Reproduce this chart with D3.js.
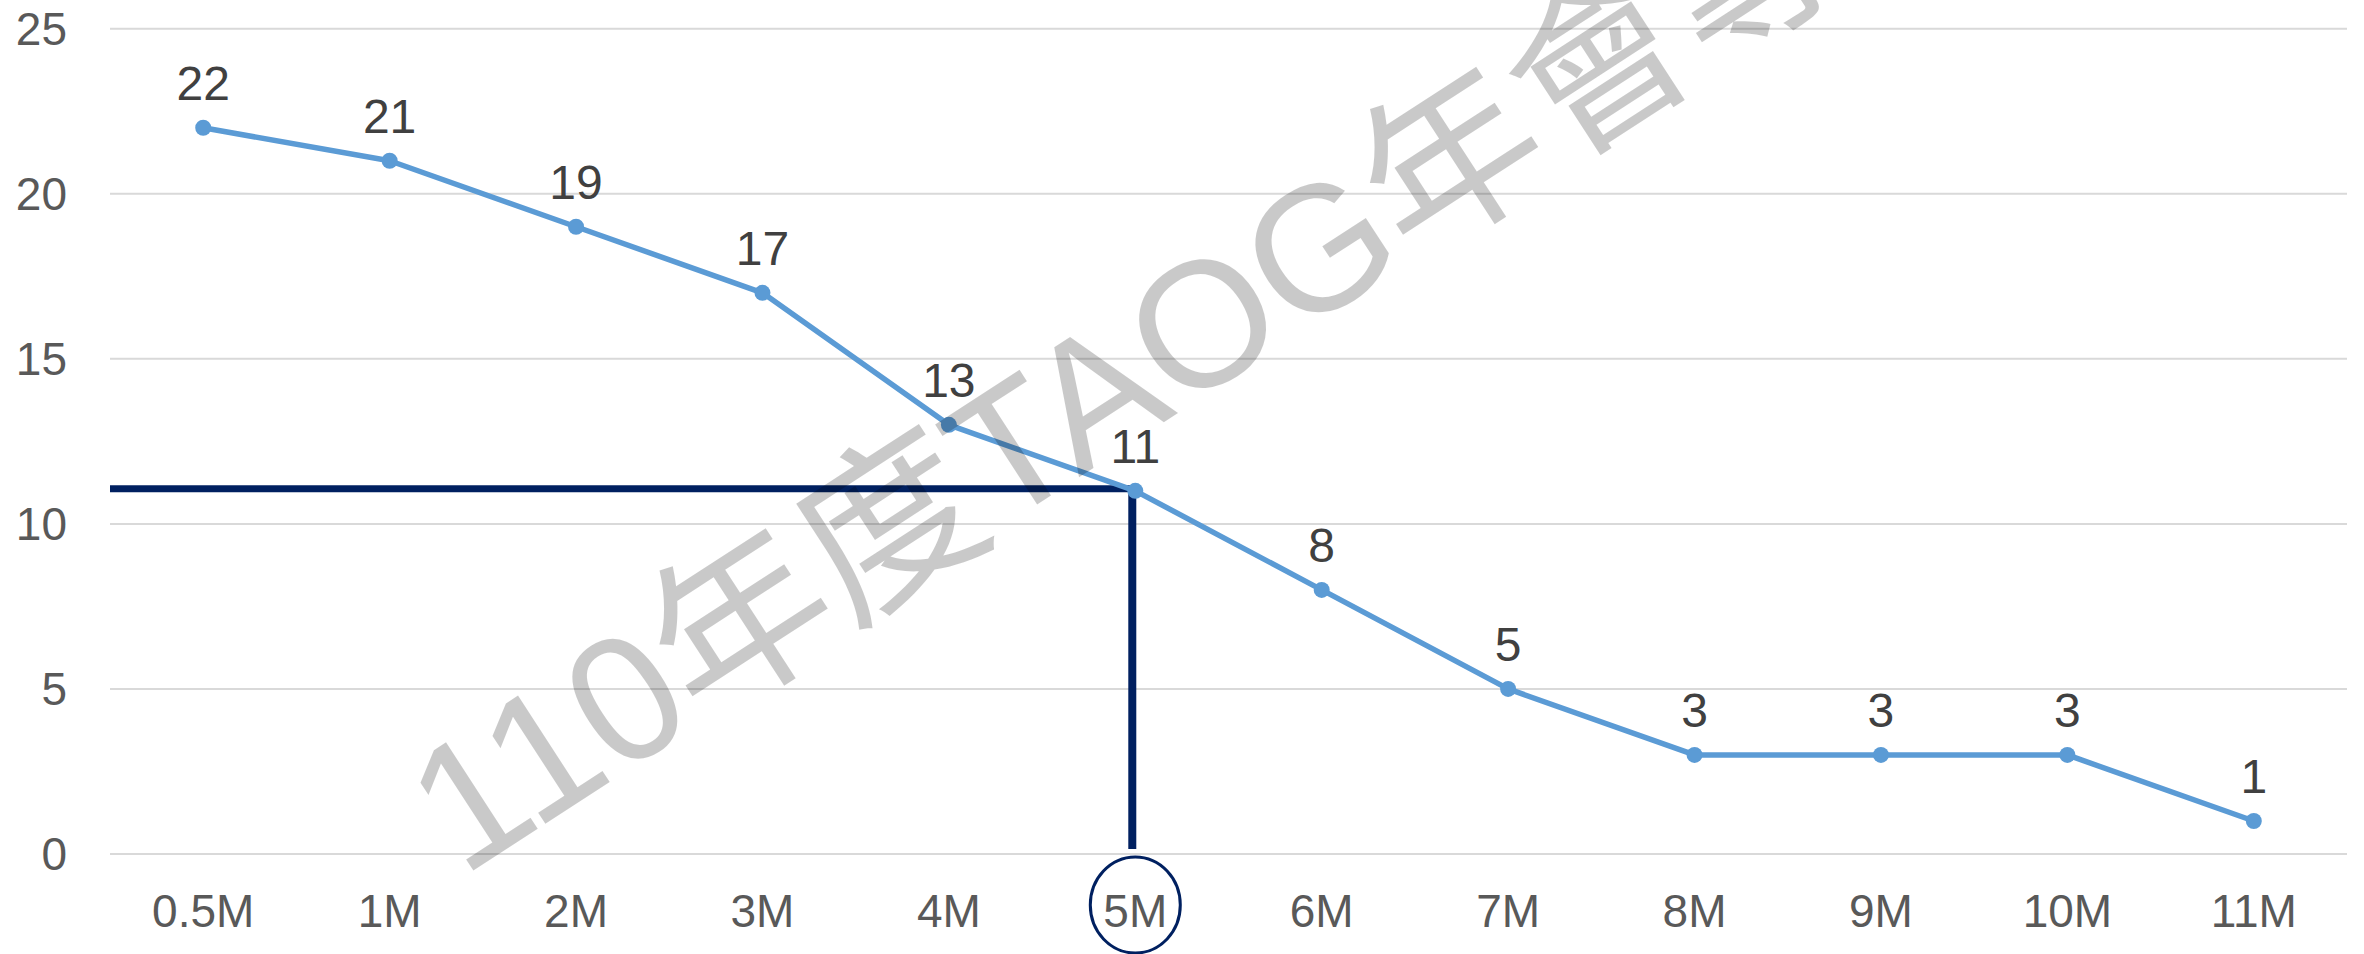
<!DOCTYPE html>
<html>
<head>
<meta charset="utf-8">
<script src="https://cdn.jsdelivr.net/npm/d3@7"></script>
<style>
  body { margin: 0; background: #fff; }
  svg { display: block; }
</style>
</head>
<body>
<script>
// ----- Data -----
const categories = ["0.5M", "1M", "2M", "3M", "4M", "5M", "6M", "7M", "8M", "9M", "10M", "11M"];
const values = [22, 21, 19, 17, 13, 11, 8, 5, 3, 3, 3, 1];
const yTicks = [0, 5, 10, 15, 20, 25];
const highlight = "5M";
const watermark = "110年度TAOG年會專用";

// ----- Layout -----
const W = 2364, H = 954;
const PLOT_LEFT = 110, PLOT_RIGHT = 2347;
const PLOT_TOP = 28.7, PLOT_BOTTOM = 854;

const LINE_COLOR = "#5B9BD5";
const NAVY = "#002060";

const svg = d3.select("body").append("svg")
    .attr("width", W)
    .attr("height", H);

const x = d3.scaleBand()
    .domain(categories)
    .range([PLOT_LEFT, PLOT_RIGHT]);

const y = d3.scaleLinear()
    .domain([0, 25])
    .range([PLOT_BOTTOM, PLOT_TOP]);

const cx = d => x(d) + x.bandwidth() / 2;

// ----- Gridlines -----
svg.append("g").selectAll("line")
    .data(yTicks)
    .enter()
    .append("line")
        .attr("x1", PLOT_LEFT)
        .attr("x2", PLOT_RIGHT)
        .attr("y1", d => y(d))
        .attr("y2", d => y(d))
        .attr("stroke", "#D9D9D9")
        .attr("stroke-width", 2);

// ----- Y axis labels -----
svg.append("g").selectAll("text")
    .data(yTicks)
    .enter()
    .append("text")
        .attr("x", 67)
        .attr("y", d => y(d))
        .attr("dy", "0.35em")
        .attr("text-anchor", "end")
        .attr("font-family", "Liberation Sans, Arial, sans-serif")
        .attr("font-size", 46)
        .attr("fill", "#595959")
        .text(d => d);

// ----- X axis labels -----
svg.append("g").selectAll("text")
    .data(categories)
    .enter()
    .append("text")
        .attr("x", d => cx(d))
        .attr("y", 927)
        .attr("text-anchor", "middle")
        .attr("font-family", "Liberation Sans, Arial, sans-serif")
        .attr("font-size", 46)
        .attr("fill", "#595959")
        .text(d => d);

// ----- Highlight (reference lines + circle) -----
const hi = categories.indexOf(highlight);
const hx = cx(highlight), hy = y(values[hi]);

svg.append("line")
    .attr("x1", PLOT_LEFT)
    .attr("x2", hx)
    .attr("y1", hy - 2)
    .attr("y2", hy - 2)
    .attr("stroke", NAVY)
    .attr("stroke-width", 7);

svg.append("line")
    .attr("x1", hx - 3)
    .attr("x2", hx - 3)
    .attr("y1", hy - 5)
    .attr("y2", y(0) - 5)
    .attr("stroke", NAVY)
    .attr("stroke-width", 8);

svg.append("ellipse")
    .attr("cx", hx)
    .attr("cy", 905)
    .attr("rx", 45)
    .attr("ry", 48)
    .attr("fill", "none")
    .attr("stroke", NAVY)
    .attr("stroke-width", 3);

// ----- Series line -----
const line = d3.line()
    .x((d, i) => cx(categories[i]))
    .y(d => y(d));

svg.append("path")
    .datum(values)
    .attr("d", line)
    .attr("fill", "none")
    .attr("stroke", LINE_COLOR)
    .attr("stroke-width", 5.5)
    .attr("stroke-linejoin", "round");

svg.append("g").selectAll("circle")
    .data(values)
    .enter()
    .append("circle")
        .attr("cx", (d, i) => cx(categories[i]))
        .attr("cy", d => y(d))
        .attr("r", 8)
        .attr("fill", LINE_COLOR);

// ----- Data labels -----
svg.append("g").selectAll("text")
    .data(values)
    .enter()
    .append("text")
        .attr("x", (d, i) => cx(categories[i]))
        .attr("y", d => y(d) - 28)
        .attr("text-anchor", "middle")
        .attr("font-family", "Liberation Sans, Arial, sans-serif")
        .attr("font-size", 48)
        .attr("fill", "#404040")
        .text(d => d);

// ----- Watermark -----
svg.append("text")
    .attr("transform", "translate(462, 878) rotate(-33)")
    .attr("font-family", "Liberation Sans, Noto Sans CJK TC, sans-serif")
    .attr("font-size", 178)
    .attr("fill", "#000")
    .attr("fill-opacity", 0.21)
    .text(watermark);
</script>
</body>
</html>
